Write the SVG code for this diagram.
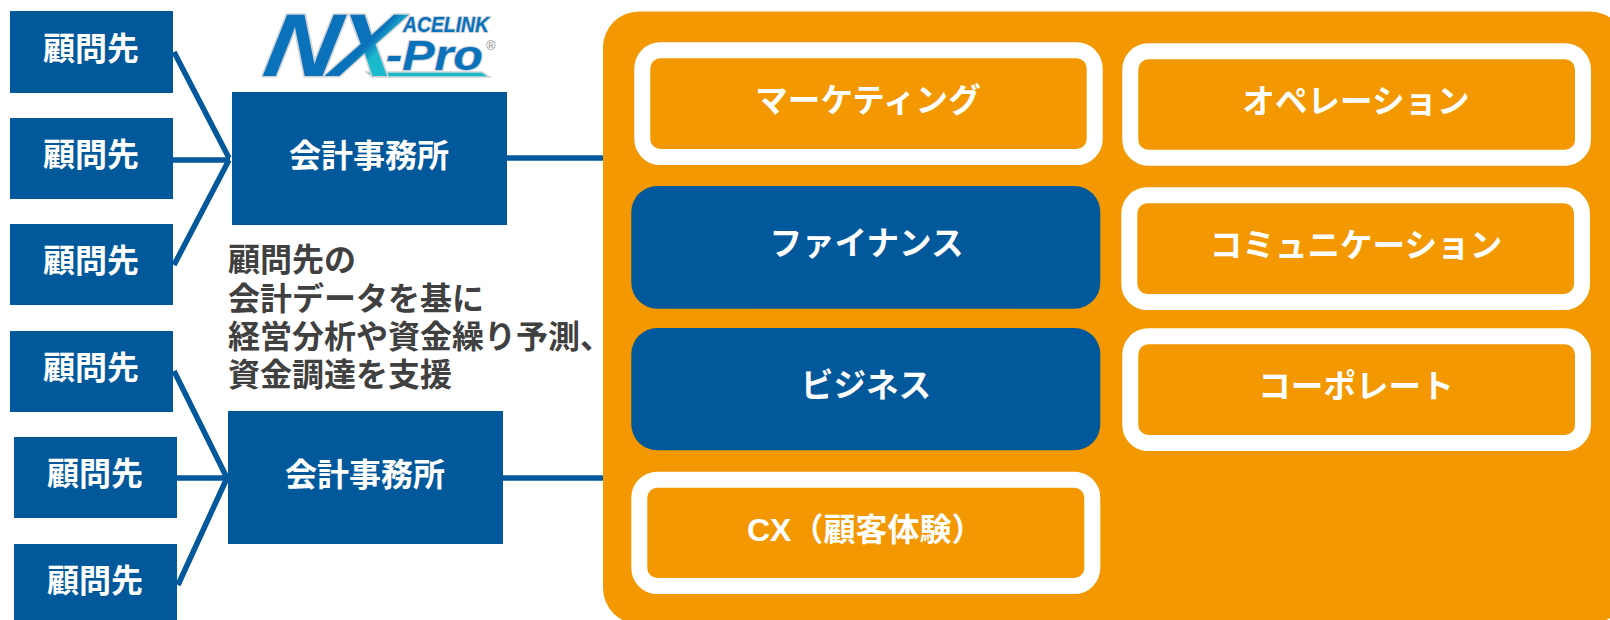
<svg xmlns="http://www.w3.org/2000/svg" width="1610" height="620" viewBox="0 0 1610 620">
<defs>
<linearGradient id="xg" x1="0" y1="0" x2="1" y2="1"><stop offset="0.5" stop-color="#0a72bb"/><stop offset="0.62" stop-color="#1bb9cc"/></linearGradient>
</defs>
<style>
text{font-family:"Noto Sans CJK JP","Liberation Sans",sans-serif;font-weight:700;font-size:32px}
.w{fill:#fff;text-anchor:middle}
.k{font-size:32.6px}
.d{fill:#404040}
.b{fill:#01589b}
.ring{fill:#f39800;stroke:#fff;stroke-width:16}
.c{stroke:#01589b;stroke-width:5.5;fill:none}
.lg{font-family:"Liberation Sans",sans-serif;font-style:italic;paint-order:stroke;stroke:#cfd4d8;stroke-width:3px;stroke-linejoin:round}
</style>
<rect width="1610" height="620" fill="#fff"/>
<g id="connectors">
<path class="c" d="M174 52L229 158M173 160H230M174 265L229 160M507 158H604"/>
<path class="c" d="M174 371L227 478M177 478H228M178 585L227 478M503 478H604"/>
</g>
<g id="logo">
<path d="M366 72H482L490 77H372Z" fill="#1bb9cc" stroke="#cfd4d8" stroke-width="1.5"/>
<text class="lg" transform="translate(261 76) skewX(-10) scale(1.14 1)" style="font-size:89px;fill:#0a72bb">N</text>
<text class="lg" transform="translate(329 76) skewX(-10) scale(1.08 1)" style="font-size:89px;fill:url(#xg)">X</text>
<text class="lg" x="403" y="32" textLength="86" lengthAdjust="spacingAndGlyphs" style="font-size:22px;fill:#0a72bb;stroke-width:2px">ACELINK</text>
<text class="lg" x="386" y="70" textLength="97" lengthAdjust="spacingAndGlyphs" style="font-size:42px;fill:#0a72bb;stroke-width:2px">-Pro</text>
<text x="486" y="50" style="font-family:'Liberation Sans',sans-serif;font-size:13px;font-weight:400;fill:#888">®</text>
</g>
<g id="client1"><rect class="b" x="10" y="11" width="163" height="82"/><text class="w" x="91" y="60">顧問先</text></g>
<g id="client2"><rect class="b" x="10" y="118" width="163" height="81"/><text class="w" x="91" y="166">顧問先</text></g>
<g id="client3"><rect class="b" x="10" y="224" width="163" height="81"/><text class="w" x="91" y="272">顧問先</text></g>
<g id="client4"><rect class="b" x="10" y="331" width="163" height="81"/><text class="w" x="91" y="379">顧問先</text></g>
<g id="client5"><rect class="b" x="14" y="437" width="163" height="81"/><text class="w" x="95" y="485">顧問先</text></g>
<g id="client6"><rect class="b" x="14" y="544" width="163" height="76"/><text class="w" x="95" y="592">顧問先</text></g>
<g id="firm1"><rect class="b" x="232" y="92" width="275" height="133"/><text class="w" x="369" y="167">会計事務所</text></g>
<g id="firm2"><rect class="b" x="228" y="411" width="275" height="133"/><text class="w" x="365" y="486">会計事務所</text></g>
<g id="description">
<text class="d" x="228" y="271">顧問先の</text>
<text class="d" x="228" y="310">会計データを基に</text>
<text class="d" x="228" y="348">経営分析や資金繰り予測、</text>
<text class="d" x="228" y="386">資金調達を支援</text>
</g>
<g id="panel"><rect x="603" y="11.5" width="1023" height="612.5" rx="36" fill="#f39800"/></g>
<g id="marketing"><rect class="ring" x="642.3" y="50.3" width="452.4" height="106.7" rx="18"/><text class="w k" x="868" y="112">マーケティング</text></g>
<g id="operations"><rect class="ring" x="1130.3" y="51.3" width="452.7" height="106.4" rx="18"/><text class="w k" x="1356" y="113">オペレーション</text></g>
<g id="finance"><rect class="b" x="631.3" y="186" width="469" height="122.7" rx="26"/><text class="w k" x="866.5" y="255">ファイナンス</text></g>
<g id="communication"><rect class="ring" x="1129.3" y="195.3" width="452.7" height="106.7" rx="18"/><text class="w k" x="1356" y="257">コミュニケーション</text></g>
<g id="business"><rect class="b" x="631.3" y="328" width="469" height="122.3" rx="26"/><text class="w k" x="866" y="397">ビジネス</text></g>
<g id="corporate"><rect class="ring" x="1130.3" y="336.3" width="452.7" height="106.7" rx="18"/><text class="w k" x="1356" y="398">コーポレート</text></g>
<g id="cx"><rect class="ring" x="639.3" y="479.7" width="453" height="106.3" rx="18"/><text x="747" y="541" style="fill:#fff"><tspan style="font-family:'Liberation Sans',sans-serif">CX</tspan>（顧客体験）</text></g>
</svg>
